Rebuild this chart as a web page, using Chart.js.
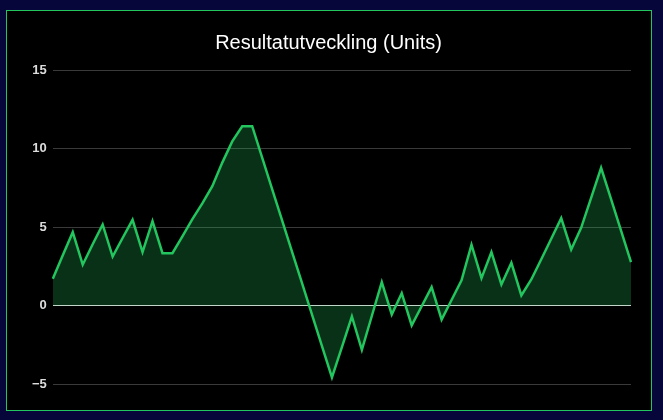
<!DOCTYPE html>
<html>
<head>
<meta charset="utf-8">
<script src="https://cdn.jsdelivr.net/npm/chart.js@4"></script>
<style>
  html, body { margin: 0; padding: 0; background: #06063a; }
  #wrap {
    position: absolute; left: 6px; top: 10px;
    width: 644px; height: 399px;
    border: 1px solid #22c55e; background: #000;
  }
  #resultChart { display: block; }
</style>
</head>
<body>
<div id="wrap"><canvas id="resultChart" width="644" height="399"></canvas></div>
<script>
// cumulative result per bet
const labels = [
  1, 2, 3, 4, 5, 6, 7, 8, 9, 10, 11, 12, 13, 14, 15, 16, 17, 18, 19, 20,
  21, 22, 23, 24, 25, 26, 27, 28, 29, 30, 31, 32, 33, 34, 35, 36, 37, 38, 39, 40,
  41, 42, 43, 44, 45, 46, 47, 48, 49, 50, 51, 52, 53, 54, 55, 56, 57, 58, 59
];
const units = [
  1.7, 3.2, 4.67, 2.6, 3.9, 5.16, 3.12, 4.3, 5.46, 3.4,
  5.37, 3.33, 3.33, 4.4, 5.5, 6.5, 7.6, 9.1, 10.45, 11.42,
  11.42, 9.42, 7.42, 5.42, 3.42, 1.42, -0.58, -2.58, -4.58, -2.65,
  -0.7, -2.82, -0.67, 1.49, -0.57, 0.78, -1.27, -0.05, 1.17, -0.9,
  0.35, 1.6, 3.87, 1.74, 3.4, 1.34, 2.72, 0.64, 1.66, 2.95,
  4.25, 5.56, 3.57, 4.95, 6.86, 8.77, 6.77, 4.77, 2.76
];
const yTicks = [-5, 0, 5, 10, 15];

const ctx = document.getElementById('resultChart').getContext('2d');

new Chart(ctx, {
  type: 'line',
  data: {
    labels: labels,
    datasets: [{
      label: 'Units',
      data: units,
      borderColor: '#22c55e',
      backgroundColor: 'rgba(34, 197, 94, 0.25)',
      borderWidth: 2.5,
      fill: 'origin',
      tension: 0,
      pointRadius: 0
    }]
  },
  options: {
    responsive: false,
    animation: false,
    locale: 'sv-SE',
    layout: { padding: { left: 19, right: 20, top: 10, bottom: 26 } },
    plugins: {
      legend: { display: false },
      tooltip: { enabled: false },
      title: {
        display: true,
        text: 'Resultatutveckling (Units)',
        color: '#ffffff',
        padding: { top: 10, bottom: 15 },
        font: { family: 'Liberation Sans, Arial, sans-serif', size: 20, weight: 'normal' }
      }
    },
    scales: {
      x: { display: false },
      y: {
        min: yTicks[0],
        max: yTicks[yTicks.length - 1],
        border: { display: false },
        afterBuildTicks: axis => { axis.ticks = yTicks.map(v => ({ value: v })); },
        ticks: {
          padding: 6,
          color: '#dcdcdc',
          font: { family: 'Liberation Sans, Arial, sans-serif', size: 13, weight: 'bold' }
        },
        grid: {
          drawTicks: false,
          color: ctx => ctx.tick && ctx.tick.value === 0 ? '#d8d8d8' : '#3a3a3a',
          lineWidth: 1
        }
      }
    }
  }
});
</script>
</body>
</html>
